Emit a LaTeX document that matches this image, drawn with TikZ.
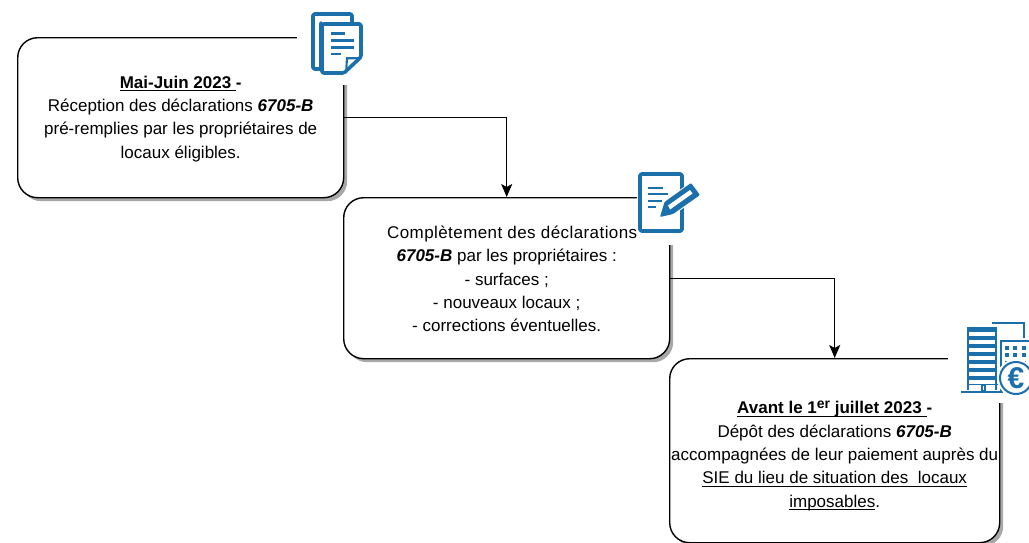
\documentclass[tikz,border=0pt]{standalone}
\usepackage{fontspec}
\setmainfont{Liberation Sans}
\usetikzlibrary{arrows.meta,shadows}
\definecolor{iconblue}{HTML}{1B6FAB}
\definecolor{shadowgray}{HTML}{A8A8A8}
\newcommand{\bfnum}{\textbf{\textit{6705-B}}}
\newcommand{\uln}[1]{\leavevmode\setbox0=\hbox{#1}\rlap{\rule[-2.8pt]{\wd0}{1pt}}\box0 }
\tikzset{
  x=1pt,y=-1pt,
  boxstyle/.style={draw=black,line width=1.4pt,fill=white,rounded corners=20pt,anchor=north west,
    inner sep=0pt,align=center,font=\fontsize{17}{23.3}\selectfont,
    drop shadow={shadow xshift=3.5pt,shadow yshift=-3.5pt,fill=shadowgray,opacity=1}},
  linkstyle/.style={draw=black,line width=1.2pt,-{Stealth[length=13pt,width=11pt,inset=3pt]}},
  maskstyle/.style={fill=white,draw=none},
  iconline/.style={draw=iconblue,line width=3.6pt,line cap=round,line join=round},
  iconthin/.style={draw=iconblue,line width=2.4pt,line join=round}
}
\begin{document}
\begin{tikzpicture}
\useasboundingbox (0,0) rectangle (1029,542);
\node[boxstyle,minimum width=326pt,minimum height=160pt] (b1) at (17,37)
 {\mbox{}\\[-9pt]\uln{\textbf{Mai-Juin 2023 }}\textbf{-}\\Réception des déclarations \bfnum\\pré-remplies par les propriétaires de\\locaux éligibles.};
\node[boxstyle,minimum width=326pt,minimum height=161pt] (b2) at (343,197)
 {\mbox{}\\[-9pt]\hspace*{11pt}{\addfontfeature{LetterSpace=2.5}Complètement des déclarations}\\\bfnum{} par les propriétaires :\\- surfaces ;\\- nouveaux locaux ;\\- corrections éventuelles.};
\node[boxstyle,minimum width=330pt,minimum height=184pt] (b3) at (669,358)
 {\mbox{}\\\uln{\textbf{Avant le 1\raisebox{5pt}{\fontsize{14}{14}\selectfont er} juillet 2023 }}\textbf{-}\\Dépôt des déclarations \bfnum\\accompagnées de leur paiement auprès du\\\uln{SIE du lieu de situation des~~locaux}\\\uln{imposables}.};
\draw[linkstyle] (b1.east) -| (b2.north);
\draw[linkstyle] (b2.east) -| (b3.north);
% masks behind the icons
\fill[maskstyle] (297,5) rectangle (368,85);
\fill[maskstyle] (637,165) rectangle (705,245);
\fill[maskstyle] (948,318) rectangle (1029,403);
% document icon
\draw[iconline,rounded corners=1.5pt] (321,23) -- (321,69) -- (313,69) -- (313,14) -- (352,14) -- (352,24);
\draw[iconline,fill=white,rounded corners=1.5pt] (322,24) -- (361,24) -- (361,57) -- (344,73) -- (322,73) -- cycle;
\fill[iconblue] (361,57) -- (346,57) -- (345,73) -- (347,73) -- (348,59.5) -- (361,59) -- cycle;
\draw[iconthin] (331,33.5) -- (345,33.5) (331,40.5) -- (354,40.5) (331,47.5) -- (354,47.5) (331,54) -- (341,54);
% form and pencil icon
\draw[iconline,rounded corners=1.5pt] (640,174) rectangle (682,231);
\draw[iconthin] (648,188) -- (663,188) (648,194) -- (668,194) (648,201) -- (662,201) (648,207) -- (656,207);
\draw[white,line width=17pt] (664,211) -- (696,189);
\fill[iconblue,rounded corners=1pt] (660,217) -- (664.5,202) -- (691,183) -- (700,195) -- (673,214) -- cycle;
\fill[white] (668,205.5) -- (690,190) -- (692.5,193.5) -- (670,209.5) -- cycle;
% building icon
\fill[iconblue] (967,327) rectangle (997,332);
\foreach \yy in {336,344,352,360,368,376} {\fill[iconblue] (967,\yy) rectangle (997,\yy+4);}
\draw[iconblue,line width=1.2pt] (968,327) -- (968,390) (996,327) -- (996,390);
\draw[iconblue,line width=1.2pt] (968,384.5) -- (1000,384.5) (982,385) rectangle (985,391);
\draw[iconblue,line width=2pt] (961,392) -- (1003,392);
\draw[iconblue,line width=2pt] (992,323) -- (1024,323) -- (1024,338);
\draw[iconblue,line width=2pt] (1001,391) -- (1001,341) -- (1029,341);
\foreach \xx in {1007,1015,1024} {\foreach \yy in {348,355,363} {\fill[iconblue] (\xx-2,\yy-2) rectangle (\xx+2,\yy+2);}}
\fill[white] (1016,378) circle (19pt);
\draw[iconblue,line width=2pt] (1016,378) circle (16pt);
\node[text=iconblue,font=\fontsize{30}{30}\selectfont\bfseries,inner sep=0pt] (euro) at (1016,378) {€};
\end{tikzpicture}
\end{document}
